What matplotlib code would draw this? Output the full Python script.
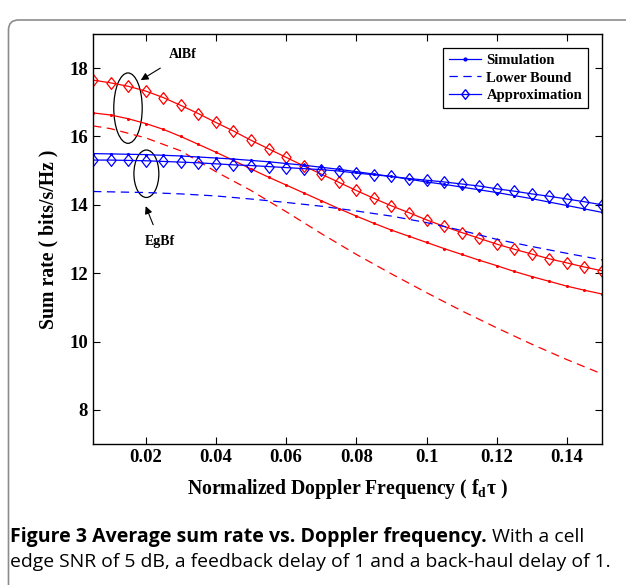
import numpy as np
import matplotlib
matplotlib.use('Agg')
import matplotlib.pyplot as plt
from matplotlib.patches import Ellipse, FancyBboxPatch
from matplotlib.lines import Line2D
from matplotlib.transforms import IdentityTransform

plt.rcParams['font.family'] = 'Liberation Serif'
plt.rcParams['font.weight'] = 'bold'
plt.rcParams['axes.labelweight'] = 'bold'
plt.rcParams['mathtext.fontset'] = 'custom'
plt.rcParams['mathtext.rm'] = 'Liberation Serif:bold'
plt.rcParams['mathtext.it'] = 'Liberation Serif:bold'
plt.rcParams['mathtext.bf'] = 'Liberation Serif:bold'
plt.rcParams['lines.scale_dashes'] = False

# Doppler grid (every 0.005) and the coarser grid used for lower bounds
fd = [0.005, 0.01, 0.015, 0.02, 0.025, 0.03, 0.035, 0.04, 0.045, 0.05,
      0.055, 0.06, 0.065, 0.07, 0.075, 0.08, 0.085, 0.09, 0.095, 0.1,
      0.105, 0.11, 0.115, 0.12, 0.125, 0.13, 0.135, 0.14, 0.145, 0.15]
fd_lb = [0.005, 0.01, 0.02, 0.03, 0.04, 0.05, 0.06, 0.07, 0.08, 0.09,
         0.1, 0.11, 0.12, 0.13, 0.14, 0.15]

# AlBf (red)
albf_sim = [16.69, 16.63, 16.52, 16.38, 16.21, 16.00, 15.77, 15.54, 15.30, 15.05,
            14.81, 14.58, 14.35, 14.12, 13.89, 13.67, 13.46, 13.26, 13.08, 12.90,
            12.72, 12.55, 12.38, 12.22, 12.05, 11.90, 11.76, 11.62, 11.50, 11.39]
albf_approx = [17.65, 17.57, 17.47, 17.33, 17.14, 16.91, 16.67, 16.41, 16.16, 15.89,
               15.64, 15.39, 15.14, 14.90, 14.66, 14.42, 14.19, 13.97, 13.77, 13.56,
               13.37, 13.19, 13.02, 12.85, 12.70, 12.56, 12.42, 12.30, 12.18, 12.07]
albf_lb = [16.31, 16.23, 15.96, 15.58, 14.97, 14.42, 13.80, 13.16, 12.55, 11.98,
           11.43, 10.90, 10.40, 9.92, 9.47, 9.05]

# EgBf (blue)
egbf_sim = [15.50, 15.49, 15.48, 15.47, 15.45, 15.43, 15.40, 15.37, 15.34, 15.30,
            15.26, 15.21, 15.16, 15.10, 15.04, 14.97, 14.90, 14.83, 14.75, 14.67,
            14.60, 14.52, 14.44, 14.36, 14.27, 14.18, 14.08, 13.98, 13.88, 13.78]
egbf_approx = [15.31, 15.31, 15.30, 15.29, 15.27, 15.25, 15.23, 15.20, 15.17, 15.15,
               15.12, 15.09, 15.06, 15.03, 14.99, 14.93, 14.88, 14.83, 14.77, 14.72,
               14.67, 14.61, 14.55, 14.47, 14.40, 14.32, 14.25, 14.17, 14.09, 14.00]
egbf_lb = [14.39, 14.38, 14.36, 14.32, 14.26, 14.17, 14.07, 13.96, 13.82, 13.67,
           13.48, 13.25, 12.99, 12.78, 12.58, 12.39]

xticks = [0.02, 0.04, 0.06, 0.08, 0.1, 0.12, 0.14]
xticklabels = ['0.02', '0.04', '0.06', '0.08', '0.1', '0.12', '0.14']
yticks = [8, 10, 12, 14, 16, 18]

caption_bold = 'Figure 3 Average sum rate vs. Doppler frequency.'
caption_rest = ' With a cell'
caption_line2 = 'edge SNR of 5 dB, a feedback delay of 1 and a back-haul delay of 1.'

# matlab-ish diamond (a bit taller than wide)
diamond = [(0, 1), (0.78, 0), (0, -1), (-0.78, 0), (0, 1)]
dash = (6, 4)
lw = 0.9

fig = plt.figure(figsize=(6.26, 5.85), dpi=100)
ax = fig.add_axes([0.1486, 0.241, 0.8131, 0.7009])

for color, sim, approx, lb in [('red', albf_sim, albf_approx, albf_lb),
                               ('blue', egbf_sim, egbf_approx, egbf_lb)]:
    ax.plot(fd, sim, '-', color=color, lw=lw, marker='.', markersize=2.5)
    ax.plot(fd_lb, lb, color=color, lw=lw, dashes=dash)
    ax.plot(fd, approx, '-', color=color, lw=lw, marker=diamond, markersize=8.5,
            markerfacecolor='none', markeredgecolor=color, markeredgewidth=0.9)

ax.set_xlim(0.005, 0.15)
ax.set_ylim(7, 19)
ax.set_xticks(xticks)
ax.set_xticklabels(xticklabels)
ax.set_yticks(yticks)
ax.tick_params(direction='in', top=True, right=True, labelsize=13.5, length=5, width=0.8)
for s in ax.spines.values():
    s.set_linewidth(1.0)

ax.set_xlabel('Normalized Doppler Frequency ( f$_{d}$\u03c4 )', fontsize=14.2, labelpad=8)
ax.set_ylabel('Sum rate ( bits/s/Hz )', fontsize=14.2, labelpad=8)

# ellipses + labels
ax.add_patch(Ellipse((0.01496, 16.83), 0.0081, 2.06, fill=False, ec='black', lw=0.9))
ax.add_patch(Ellipse((0.0202, 14.91), 0.0071, 1.39, fill=False, ec='black', lw=0.9))
ax.annotate('AlBf', xy=(0.0186, 17.65), xytext=(0.0305, 18.4), fontsize=10,
            ha='center', va='center',
            arrowprops=dict(arrowstyle='-|>', color='black', lw=0.8, mutation_scale=11,
                            shrinkA=6, shrinkB=0))
ax.annotate('EgBf', xy=(0.02, 13.96), xytext=(0.0241, 12.92), fontsize=10,
            ha='center', va='center',
            arrowprops=dict(arrowstyle='-|>', color='black', lw=0.8, mutation_scale=11,
                            shrinkA=6, shrinkB=0))

handles = [Line2D([], [], color='blue', lw=lw, marker='.', markersize=4),
           Line2D([], [], color='blue', lw=lw, dashes=dash),
           Line2D([], [], color='blue', lw=lw, marker=diamond, markersize=7,
                  markerfacecolor='none')]
leg = ax.legend(handles, ['Simulation', 'Lower Bound', 'Approximation'],
                loc='upper right', bbox_to_anchor=(0.9725, 0.966), borderaxespad=0,
                fontsize=10.5, numpoints=1, handlelength=2.2, handletextpad=0.4,
                labelspacing=0.3, borderpad=0.4, fancybox=False, edgecolor='black',
                framealpha=1)
leg.get_frame().set_linewidth(0.9)

# caption, sizes fitted to the widths in the reference
cap_font = 'Open Sans'
renderer = fig.canvas.get_renderer()


def fit_text(x, y, s, weight, target_px):
    t = fig.text(x, y, s, family=cap_font, weight=weight, fontsize=12,
                 va='center', ha='left')
    w = t.get_window_extent(renderer).width
    t.set_fontsize(12 * target_px / w)
    return t


y1 = 1 - 537 / 585
y2 = 1 - 562 / 585
t1 = fit_text(10 / 626, y1, caption_bold, 'bold', 476)
bb = t1.get_window_extent(renderer)
t2 = fig.text(bb.x1 / fig.bbox.width, y1, caption_rest, family=cap_font,
              weight='normal', fontsize=12, va='center', ha='left')
t3 = fit_text(10 / 626, y2, caption_line2, 'normal', 598)
t2.set_fontsize(t3.get_fontsize())

# rounded frame around the figure panel (cut by the right/bottom edges)
frame = FancyBboxPatch((8.5, -30), 700, 605 - 10, boxstyle='round,pad=0,rounding_size=10',
                       transform=IdentityTransform(), fill=False, ec='#8c8c8c', lw=1.2)
fig.add_artist(frame)

fig.savefig('out.png', dpi=100)
